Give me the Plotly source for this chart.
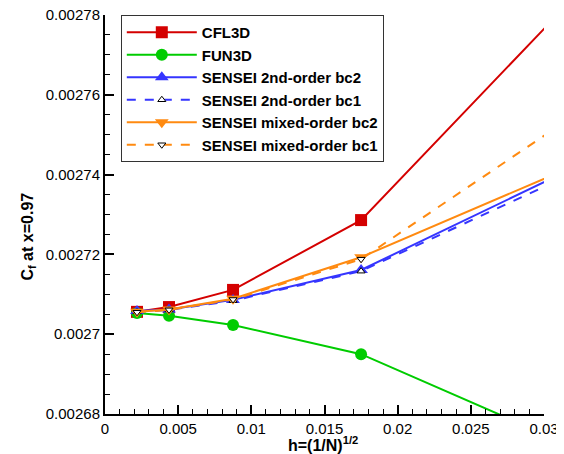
import plotly.graph_objects as go

h = [0.0021875, 0.004375, 0.00875, 0.0175, 0.035]

cfl3d = [0.0027056, 0.0027068, 0.0027111, 0.0027286, 0.0027957]
fun3d = [0.0027053, 0.0027046, 0.0027023, 0.0026950, 0.0026670]
sensei_2nd_bc2 = [0.0027058, 0.0027062, 0.0027086, 0.0027161, 0.0027469]
sensei_2nd_bc1 = [0.0027056, 0.0027061, 0.0027084, 0.0027158, 0.0027454]
sensei_mix_bc2 = [0.0027056, 0.0027062, 0.0027089, 0.0027193, 0.0027468]
sensei_mix_bc1 = [0.0027055, 0.0027061, 0.0027087, 0.0027188, 0.0027621]

y_ticks = [0.00268, 0.0027, 0.00272, 0.00274, 0.00276, 0.00278]
y_tick_text = ["0.00268", "0.0027", "0.00272", "0.00274", "0.00276", "0.00278"]
x_ticks = [0, 0.005, 0.01, 0.015, 0.02, 0.025, 0.03]
x_tick_text = ["0", "0.005", "0.01", "0.015", "0.02", "0.025", "0.03"]

x_title = "<b>h=(1/N)<sup>1/2</sup></b>"
y_title = "<b>C<sub>f</sub> at x=0.97</b>"

RED = "#d40000"
GREEN = "#00cc00"
BLUE = "#3535ff"
ORANGE = "#ff8a10"
FONT = "Liberation Sans, Arial, Helvetica, sans-serif"

fig = go.Figure()

def add(name, y, color, symbol, size, dash="solid", small=False):
    if small:
        marker = dict(symbol=symbol, size=size, color="white",
                      line=dict(color="black", width=1))
    else:
        marker = dict(symbol=symbol, size=size, color=color,
                      line=dict(color=color, width=0))
    fig.add_trace(go.Scatter(
        x=h, y=y, name=name, mode="lines+markers",
        line=dict(color=color, width=2, dash=dash),
        marker=marker))

add("CFL3D", cfl3d, RED, "square", 12)
add("FUN3D", fun3d, GREEN, "circle", 12)
add("SENSEI 2nd-order bc2", sensei_2nd_bc2, BLUE, "triangle-up", 12)
add("SENSEI 2nd-order bc1", sensei_2nd_bc1, BLUE, "triangle-up", 7, dash="dash", small=True)
add("SENSEI mixed-order bc2", sensei_mix_bc2, ORANGE, "triangle-down", 12)
add("SENSEI mixed-order bc1", sensei_mix_bc1, ORANGE, "triangle-down", 7, dash="dash", small=True)

# page body has an 8px default margin; size the figure so that it fills the window
fig.update_layout(
    width=556, height=446,
    margin=dict(l=97, r=20, t=7, b=40),
    paper_bgcolor="white", plot_bgcolor="white",
    font=dict(family=FONT, size=15, color="black"),
    showlegend=True,
    legend=dict(
        x=0.036, y=1.0, xanchor="left", yanchor="top",
        bgcolor="white", bordercolor="#333333", borderwidth=1,
        font=dict(size=15, family=FONT, weight="bold"),
        tracegroupgap=0, itemwidth=70,
    ),
    annotations=[
        dict(text=x_title, xref="paper", yref="paper", x=0.497, y=-0.074,
             xanchor="center", yanchor="middle", showarrow=False,
             font=dict(size=16, family=FONT)),
        dict(text=y_title, xref="paper", yref="paper", x=-0.175, y=0.445,
             xanchor="center", yanchor="middle", textangle=-90, showarrow=False,
             font=dict(size=16, family=FONT)),
    ],
)

fig.update_xaxes(
    range=[0, 0.03], showgrid=False, zeroline=False, automargin=False,
    showline=True, linecolor="black", linewidth=2, mirror=False,
    ticks="inside", ticklen=9, tickwidth=2, tickcolor="black",
    tickvals=x_ticks, ticktext=x_tick_text,
    minor=dict(ticks="inside", ticklen=5, tickwidth=1, tickcolor="black", dtick=0.001, showgrid=False),
    tickfont=dict(size=15), ticklabelstandoff=0, ticklabeloverflow="allow",
)
fig.update_yaxes(
    range=[0.00268, 0.00278], showgrid=False, zeroline=False, automargin=False,
    showline=True, linecolor="black", linewidth=2, mirror=False,
    ticks="inside", ticklen=9, tickwidth=2, tickcolor="black",
    tickvals=y_ticks, ticktext=y_tick_text,
    minor=dict(ticks="inside", ticklen=5, tickwidth=1, tickcolor="black", dtick=0.000005, showgrid=False),
    tickfont=dict(size=15), ticklabelstandoff=0, ticklabeloverflow="allow",
)

fig.write_html("out.html")
